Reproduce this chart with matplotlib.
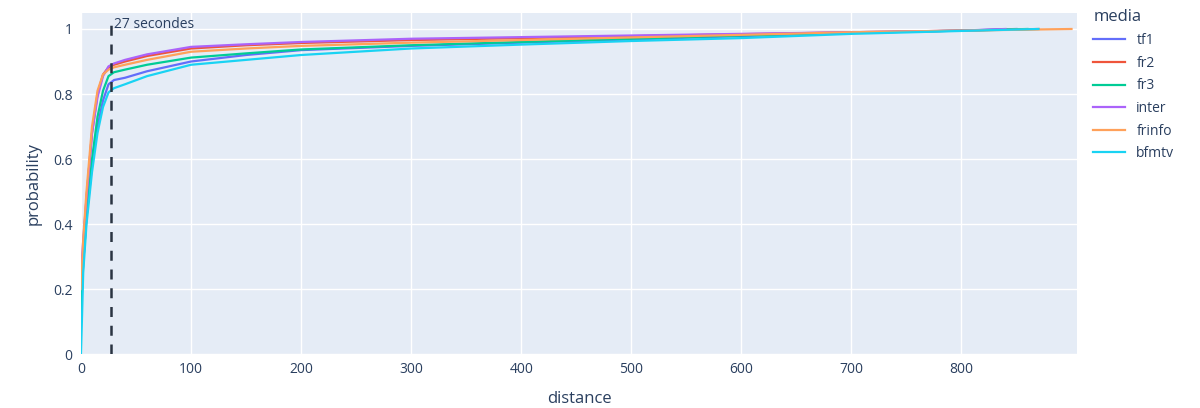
import matplotlib.pyplot as plt

# ECDF of the distance per media
distance = [0, 2, 5, 10, 15, 20, 25, 30, 40, 60, 100, 150, 200, 300, 400, 500, 600, 700, 800]

media = ["tf1", "fr2", "fr3", "inter", "frinfo", "bfmtv"]
colors = ["#636EFA", "#EF553B", "#00CC96", "#AB63FA", "#FFA15A", "#19D3F3"]

tf1 = [0.15, 0.28, 0.42, 0.58, 0.70, 0.78, 0.83, 0.843, 0.85, 0.87, 0.90, 0.92, 0.935, 0.948, 0.958, 0.968, 0.978, 0.988, 0.995]
fr2 = [0.10, 0.33, 0.48, 0.68, 0.80, 0.86, 0.882, 0.89, 0.90, 0.917, 0.94, 0.95, 0.957, 0.966, 0.972, 0.978, 0.984, 0.99, 0.995]
fr3 = [0.12, 0.28, 0.42, 0.60, 0.73, 0.81, 0.855, 0.867, 0.875, 0.89, 0.912, 0.925, 0.937, 0.95, 0.96, 0.97, 0.98, 0.988, 0.995]
inter = [0.25, 0.35, 0.48, 0.68, 0.79, 0.855, 0.885, 0.894, 0.905, 0.922, 0.945, 0.953, 0.96, 0.97, 0.975, 0.98, 0.985, 0.99, 0.995]
frinfo = [0.20, 0.35, 0.50, 0.70, 0.81, 0.86, 0.875, 0.882, 0.89, 0.905, 0.93, 0.94, 0.948, 0.958, 0.966, 0.974, 0.982, 0.99, 0.995]
bfmtv = [0.0, 0.25, 0.40, 0.56, 0.68, 0.76, 0.805, 0.818, 0.83, 0.855, 0.89, 0.905, 0.92, 0.94, 0.952, 0.963, 0.972, 0.985, 0.994]

# last distance of each series (where it reaches 1)
max_distance = [850, 870, 860, 840, 900, 870]

threshold = 27
xticks = [0, 100, 200, 300, 400, 500, 600, 700, 800]
yticks = [0, 0.2, 0.4, 0.6, 0.8, 1]
ytick_labels = ["0", "0.2", "0.4", "0.6", "0.8", "1"]

TEXT = "#2a3f5f"
plt.rcParams["font.family"] = ["Open Sans", "DejaVu Sans"]

fig = plt.figure(figsize=(12, 4.08), dpi=100)
ax = fig.add_axes([0.0675, 0.132, 0.83, 0.836])
ax.set_facecolor("#E5ECF6")

series = [tf1, fr2, fr3, inter, frinfo, bfmtv]
for name, ys, color, xmax in zip(media, series, colors, max_distance):
    ax.plot(distance + [xmax], ys + [1.0], color=color, lw=1.6, label=name)

ax.axvline(threshold, ymax=0.985, color="#2a3442", lw=1.8, ls=(0, (4, 3.5)))
ax.text(threshold + 3, 1.013, f"{threshold} secondes", color=TEXT,
        fontsize=10, ha="left", va="center")

ax.set_xlim(0, 905)
ax.set_ylim(0, 1.049)
ax.set_xticks(xticks)
ax.set_yticks(yticks)
ax.set_yticklabels(ytick_labels)
ax.grid(True, color="white", lw=1)
ax.set_axisbelow(True)
for s in ax.spines.values():
    s.set_visible(False)
ax.tick_params(length=0, colors=TEXT, labelsize=10, pad=6)
ax.set_xlabel("distance", color=TEXT, fontsize=12, labelpad=10)
ax.set_ylabel("probability", color=TEXT, fontsize=12, labelpad=8)

leg = ax.legend(title="media", loc="upper left", bbox_to_anchor=(1.008, 1.035),
                frameon=False, fontsize=10, title_fontsize=12,
                handlelength=2.3, labelspacing=0.55, borderaxespad=0.2)
leg._legend_box.align = "left"
for t in leg.get_texts():
    t.set_color(TEXT)
leg.get_title().set_color(TEXT)

fig.savefig("out.png", dpi=100, facecolor="white")
